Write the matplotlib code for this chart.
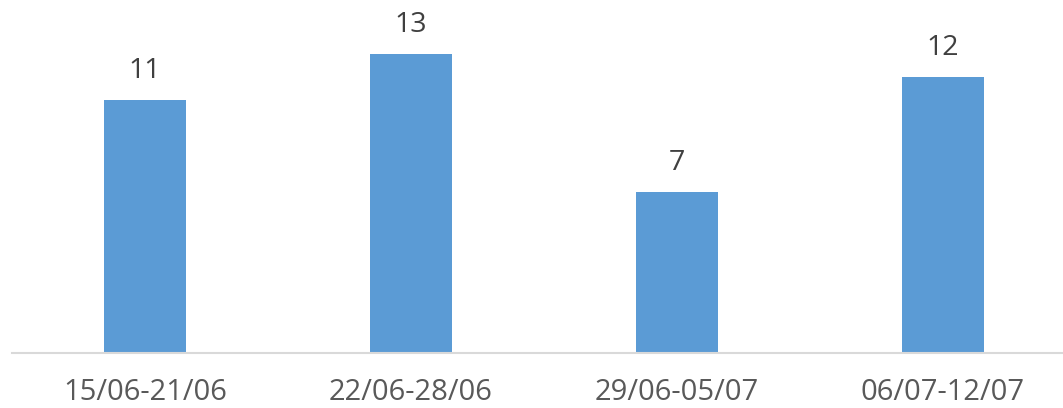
import matplotlib
matplotlib.use("Agg")
import matplotlib.pyplot as plt

weeks = ["15/06-21/06", "22/06-28/06", "29/06-05/07", "06/07-12/07"]
counts = [11, 13, 7, 12]

plt.rcParams["font.family"] = ["Open Sans", "DejaVu Sans"]

W, H = 1063, 408
fig = plt.figure(figsize=(W / 100, H / 100), dpi=100, facecolor="white")
# axes spans baseline (y=353) up to top, left edge at x=12, category width 266 px
left, base = 12, 353
cat_w = 266
ax = fig.add_axes([left / W, (H - base) / H, 4 * cat_w / W, (base - 8) / H])
ax.set_xlim(-0.5, 3.5)
ax.set_ylim(0, 15)

bars = ax.bar(range(len(weeks)), counts, width=0.31, color="#5B9BD5", zorder=2)
for b, v in zip(bars, counts):
    ax.annotate(str(v), (b.get_x() + b.get_width() / 2, v),
                xytext=(0, 11), textcoords="offset points",
                ha="center", va="bottom", fontsize=20.5, color="#404040")

ax.set_xticks(range(len(weeks)))
ax.set_xticklabels(weeks, fontsize=21, color="#595959")
ax.tick_params(axis="x", length=0, pad=18)
ax.set_yticks([])
for s in ("top", "right", "left"):
    ax.spines[s].set_visible(False)
ax.spines["bottom"].set_color("#D9D9D9")
ax.spines["bottom"].set_linewidth(1.5)

fig.savefig("out.png", dpi=100, facecolor="white")
